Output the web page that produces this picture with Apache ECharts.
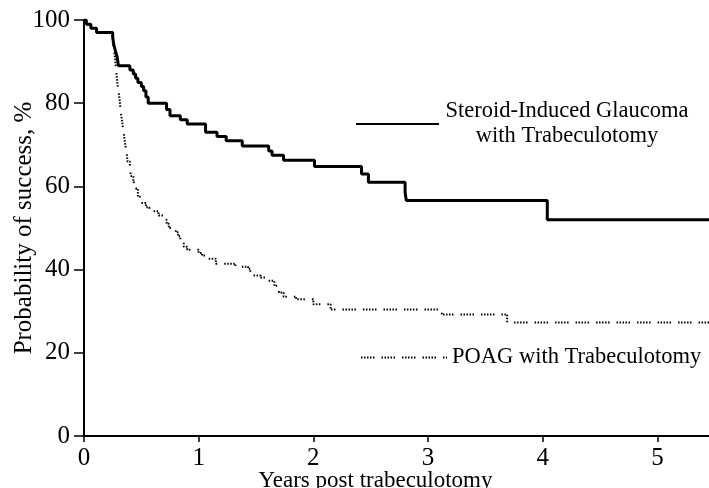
<!DOCTYPE html>
<html><head><meta charset="utf-8">
<script src="https://cdn.jsdelivr.net/npm/echarts@6/dist/echarts.min.js"></script>
<style>html,body{margin:0;padding:0;background:#fff}#c{width:709px;height:488px}</style>
</head><body><div id="c"></div>
<script>
const xTicks = [0, 1, 2, 3, 4, 5];
const yTicks = [0, 20, 40, 60, 80, 100];
const steroidName = 'Steroid-Induced Glaucoma\nwith Trabeculotomy';
const poagName = 'POAG with Trabeculotomy';
const steroidX = [0, 0.02, 0.06, 0.11, 0.25, 0.26, 0.27, 0.28, 0.29, 0.30, 0.40, 0.43, 0.45, 0.47, 0.50, 0.52, 0.54, 0.56, 0.72, 0.75, 0.84, 0.90, 1.06, 1.16, 1.24, 1.38, 1.61, 1.64, 1.74, 2.01, 2.42, 2.48, 2.80, 2.81, 4.04, 5.45];
const steroidY = [100, 99, 98, 97, 96, 94, 93, 92, 91, 89, 88, 87, 86, 85, 84, 83, 81.5, 80, 78.5, 77, 76, 75, 73, 72, 71, 69.7, 68.5, 67.5, 66.3, 64.8, 63, 61, 58.6, 56.6, 52, 52];
const poagX = [0, 0.02, 0.06, 0.11, 0.25, 0.26, 0.27, 0.28, 0.29, 0.30, 0.31, 0.32, 0.33, 0.34, 0.35, 0.36, 0.37, 0.38, 0.40, 0.41, 0.43, 0.45, 0.47, 0.50, 0.54, 0.57, 0.65, 0.70, 0.72, 0.74, 0.80, 0.82, 0.84, 0.87, 0.90, 1.00, 1.03, 1.08, 1.15, 1.32, 1.43, 1.45, 1.54, 1.61, 1.66, 1.70, 1.74, 1.85, 2.00, 2.15, 3.12, 3.69, 5.45];
const poagY = [100, 99, 98, 97, 95, 93, 91, 88, 85, 83, 81, 78, 76, 74, 72, 70, 68.5, 66, 64, 62.5, 61, 59.5, 57.5, 56, 55, 54, 53, 52, 51, 50, 49, 48, 47, 45.5, 44.8, 44, 43.4, 42.6, 41.4, 40.7, 40.2, 38.6, 38.1, 37.3, 36.1, 34.5, 33.5, 32.9, 31.7, 30.4, 29.2, 27.3, 27.3];

const FONT = 'Liberation Serif';
const pair = (xs, ys) => xs.map((x, i) => [x, ys[i]]);
const chart = echarts.init(document.getElementById('c'), null, {renderer: 'canvas'});
const hiddenSymbol = {color: 'transparent', borderWidth: 0, opacity: 0};
chart.setOption({
  animation: false,
  backgroundColor: '#fff',
  textStyle: {fontFamily: FONT, color: '#000'},
  grid: {left: 84, right: 0, top: 20, bottom: 52, outerBoundsMode: 'none', containLabel: false},
  legend: [
    {
      data: [steroidName], left: 355, top: 100, padding: 0, itemWidth: 83, itemHeight: 14,
      itemStyle: hiddenSymbol,
      formatter: () => '{a|Steroid-Induced Glaucoma}\n{a|with Trabeculotomy}',
      textStyle: {rich: {a: {fontFamily: FONT, fontSize: 22.5, color: '#000', width: 246, align: 'center', lineHeight: 25}}}
    },
    {
      data: [poagName], left: 360, top: 345, padding: 0, itemWidth: 86, itemHeight: 14,
      itemStyle: hiddenSymbol,
      textStyle: {fontFamily: FONT, fontSize: 22.5, color: '#000', lineHeight: 25}
    }
  ],
  xAxis: {
    type: 'value', min: 0, max: 5.45,
    axisLine: {lineStyle: {color: '#000', width: 2}},
    axisTick: {customValues: xTicks, length: 6, lineStyle: {color: '#000', width: 1.5}},
    axisLabel: {customValues: xTicks, fontSize: 25, color: '#000', margin: 10, fontFamily: FONT},
    splitLine: {show: false},
    name: 'Years post trabeculotomy', nameLocation: 'middle', nameGap: 33, nameMoveOverlap: false,
    nameTextStyle: {fontSize: 23, color: '#000', fontFamily: FONT, padding: [0, 42, 0, 0]}
  },
  yAxis: {
    type: 'value', min: 0, max: 100, interval: 20,
    axisLine: {show: true, lineStyle: {color: '#000', width: 2}},
    axisTick: {show: true, length: 10, lineStyle: {color: '#000', width: 1.5}},
    axisLabel: {fontSize: 25, color: '#000', margin: 14, fontFamily: FONT},
    splitLine: {show: false},
    name: 'Probability of success, %', nameLocation: 'middle', nameGap: 47, nameMoveOverlap: false,
    nameTextStyle: {fontSize: 25, color: '#000', fontFamily: FONT}
  },
  series: [
    {
      name: poagName, type: 'line', step: 'end', symbol: 'none',
      data: pair(poagX, poagY),
      lineStyle: {color: '#000', width: 2, type: [1.5, 1.5, 1.5, 1.5, 1.5, 1.5, 1.5, 1.5, 1.5, 7]},
      itemStyle: {color: '#000'}, z: 2
    },
    {
      name: steroidName, type: 'line', step: 'end', symbol: 'none',
      data: pair(steroidX, steroidY),
      lineStyle: {color: '#000', width: 3},
      itemStyle: {color: '#000'}, z: 3
    }
  ]
});
</script></body></html>
